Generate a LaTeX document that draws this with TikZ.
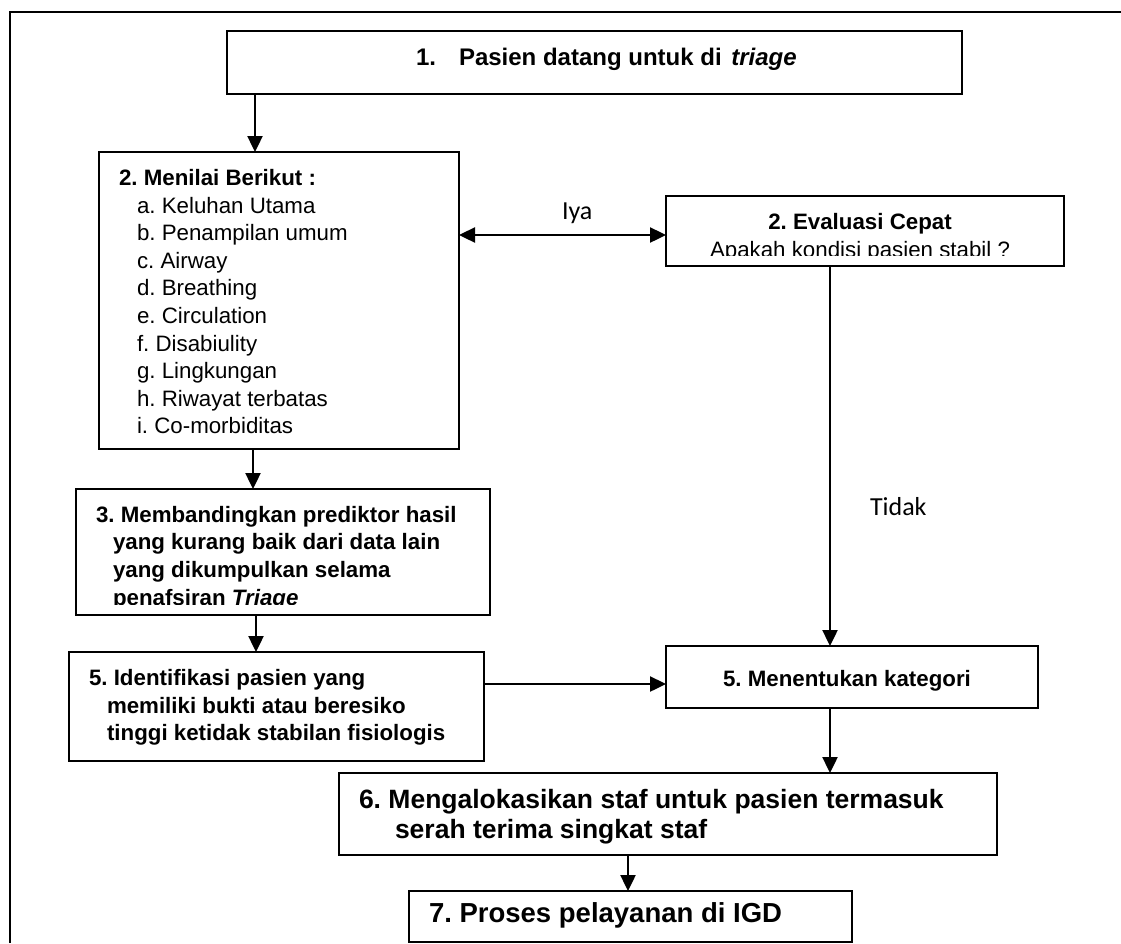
\documentclass[tikz,border=0pt]{standalone}
\usepackage{fontspec}
\newfontfamily\arial{Liberation Sans}
\newfontfamily\calib{Carlito}
\usetikzlibrary{arrows.meta,calc}
\frenchspacing
\begin{document}
\begin{tikzpicture}[x=1pt,y=-1pt,
 box/.style={draw, line width=2.8pt, inner sep=0pt, outer sep=0pt, anchor=center},
 arr/.style={line width=2.4pt, -{Triangle[length=16pt,width=15pt]}},
 arrboth/.style={line width=2.4pt, {Triangle[length=16pt,width=15pt]}-{Triangle[length=16pt,width=15pt]}},
 lbl/.style={inner sep=0pt, outer sep=0pt, anchor=base west},
 bf/.style={lbl, font=\arial\bfseries\fontsize{22.3}{27.6}\selectfont},
 rg/.style={lbl, font=\arial\fontsize{22.3}{27.6}\selectfont},
 cal/.style={lbl, font=\calib\fontsize{26}{31}\selectfont},
]
\useasboundingbox (0,0) rectangle (1121,943);
% outer frame (only top and left visible)
\draw[line width=2.4pt] (10,943) -- (10,12) -- (1121,12);

% boxes
\node[box, minimum width=735pt, minimum height=63pt]  (b1)  at (594.5,62.5) {};
\node[box, minimum width=360pt, minimum height=297pt] (b2)  at (279,300.5) {};
\node[box, minimum width=398pt, minimum height=70pt]  (ev)  at (865,231) {};
\node[box, minimum width=414pt, minimum height=126pt] (b3)  at (283,552) {};
\node[box, minimum width=415pt, minimum height=109pt] (b5)  at (276.5,706.5) {};
\node[box, minimum width=372pt, minimum height=62pt]  (kat) at (852,677) {};
\node[box, minimum width=658pt, minimum height=82pt]  (b6)  at (668,814) {};
\node[box, minimum width=443pt, minimum height=51pt]  (b7)  at (630.5,916.5) {};

% box 1 text
\node[bf, font=\arial\bfseries\fontsize{24}{29}\selectfont] (t1n) at (416,65) {1.};
\node[bf, font=\arial\bfseries\fontsize{24}{29}\selectfont] (t1) at (459,65) {Pasien datang untuk di\hspace{3pt} \textit{triage}};

% box 2 text
\node[bf] (t2) at (119,185) {2. Menilai Berikut :};
\foreach \t [count=\k from 0] in {a. Keluhan Utama, b. Penampilan umum, c. Airway, d. Breathing, e. Circulation, f. Disabiulity, g. Lingkungan, h. Riwayat terbatas, i. Co-morbiditas}
  \node[rg] (item\k) at (137,{213+27.6*\k}) {\t};

% evaluasi text
\node[bf, anchor=base] (evt) at (860,229) {2. Evaluasi Cepat};
\begin{scope}
\clip (666,196) rectangle (1064,255.5);
\node[rg, anchor=base] (evq) at (860,257.5) {Apakah kondisi pasien stabil ?};
\end{scope}

% box 3 text
\node[bf] (t3a) at (96,522) {3. Membandingkan prediktor hasil};
\node[bf] (t3b) at (113,549.6) {yang kurang baik dari data lain};
\node[bf] (t3c) at (113,577.2) {yang dikumpulkan selama};
\begin{scope}
\clip (76,489) rectangle (490,604.5);
\node[bf] (t3d) at (113,605) {penafsiran \textit{Triage}};
\end{scope}

% box 5 (left) text
\node[bf] (t5a) at (89,685) {5. Identifikasi pasien yang};
\node[bf] (t5b) at (107,713) {memiliki bukti atau beresiko};
\node[bf] (t5c) at (107,740.5) {tinggi ketidak stabilan fisiologis};

% kategori text
\node[bf, anchor=base] (tk) at (847,686) {5. Menentukan kategori};

% box 6 text
\node[bf, font=\arial\bfseries\fontsize{26.5}{30}\selectfont] (t6a) at (359,808) {6. Mengalokasikan staf untuk pasien termasuk};
\node[bf, font=\arial\bfseries\fontsize{26.5}{30}\selectfont] (t6b) at (395,838) {serah terima singkat staf};

% box 7 text
\node[bf, font=\arial\bfseries\fontsize{27.5}{31}\selectfont] (t7) at (429,922) {7. Proses pelayanan di IGD};

% labels
\node[cal] (iya) at (562,219) {Iya};
\node[cal] (tidak) at (870,515) {Tidak};

% helper coordinates for connector positions
\coordinate (xA) at (255,0);
\coordinate (xB) at (253,0);
\coordinate (xC) at (256,0);
\coordinate (xD) at (830,0);
\coordinate (xE) at (628,0);
\coordinate (yA) at (0,235);
\coordinate (yB) at (0,684);

% connectors
\draw[arr] (b1.south -| xA) -- (b2.north -| xA);
\draw[arr] (b2.south -| xB) -- (b3.north -| xB);
\draw[arr] (b3.south -| xC) -- (b5.north -| xC);
\draw[arrboth] (b2.east |- yA) -- (ev.west |- yA);
\draw[arr] (ev.south -| xD) -- (kat.north -| xD);
\draw[arr] (b5.east |- yB) -- (kat.west |- yB);
\draw[arr] (kat.south -| xD) -- (b6.north -| xD);
\draw[arr] (b6.south -| xE) -- (b7.north -| xE);
\end{tikzpicture}
\end{document}
